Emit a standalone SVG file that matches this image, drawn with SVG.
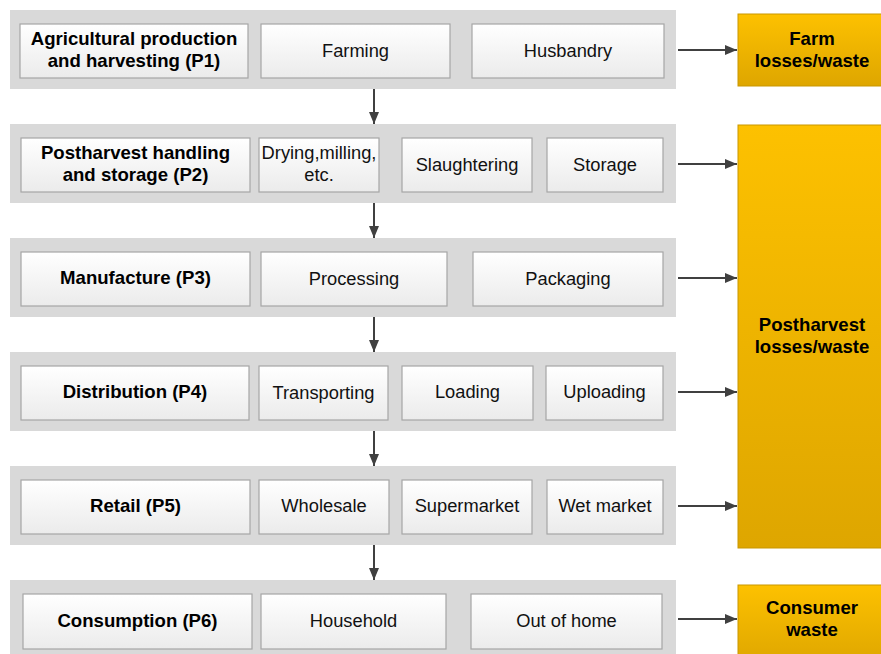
<svg xmlns="http://www.w3.org/2000/svg" width="881" height="654" viewBox="0 0 881 654">
<defs>
<linearGradient id="gBox" x1="0" y1="0" x2="0" y2="1"><stop offset="0" stop-color="#ffffff"/><stop offset="1" stop-color="#ebebeb"/></linearGradient>
<linearGradient id="gOr" x1="0" y1="0" x2="0" y2="1"><stop offset="0" stop-color="#fdc100"/><stop offset="1" stop-color="#dea600"/></linearGradient>
<marker id="ah" viewBox="0 0 12 10" refX="12" refY="5" markerWidth="6" markerHeight="5" orient="auto" markerUnits="strokeWidth"><path d="M0,0 L12,5 L0,10 z" fill="#404040"/></marker>
<style>
.band{fill:#d9d9d9}
.box{fill:url(#gBox);stroke:#a6a6a6;stroke-width:1.2}
.or{fill:url(#gOr);stroke:#c99700;stroke-width:1}
text{font-family:"Liberation Sans",Arial,sans-serif;font-size:18.3px;fill:#111111;text-anchor:middle}
.b{font-weight:bold;font-size:18.6px;fill:#000}
.c{stroke:#404040;stroke-width:2;fill:none;marker-end:url(#ah)}
</style>
</defs>
<rect width="881" height="654" fill="#ffffff"/>

<g id="row1">
<rect class="band" x="10" y="10" width="666" height="79"/>
<rect class="box" x="20" y="24" width="228" height="54"/>
<text class="b" x="134" y="45">Agricultural production</text>
<text class="b" x="134" y="67">and harvesting (P1)</text>
<rect class="box" x="261" y="24" width="189" height="54"/>
<text x="355.5" y="57">Farming</text>
<rect class="box" x="472" y="24" width="192" height="54"/>
<text x="568" y="57">Husbandry</text>
</g>

<g id="row2">
<rect class="band" x="10" y="124" width="666" height="79"/>
<rect class="box" x="21" y="138" width="229" height="54"/>
<text class="b" x="135.5" y="159">Postharvest handling</text>
<text class="b" x="135.5" y="181">and storage (P2)</text>
<rect class="box" x="259" y="138" width="120" height="54"/>
<text x="319" y="159">Drying,milling,</text>
<text x="319" y="181">etc.</text>
<rect class="box" x="402" y="138" width="130" height="54"/>
<text x="467" y="171">Slaughtering</text>
<rect class="box" x="547" y="138" width="116" height="54"/>
<text x="605" y="171">Storage</text>
</g>

<g id="row3">
<rect class="band" x="10" y="238" width="666" height="79"/>
<rect class="box" x="21" y="252" width="229" height="54"/>
<text class="b" x="135.5" y="284">Manufacture (P3)</text>
<rect class="box" x="261" y="252" width="186" height="54"/>
<text x="354" y="285">Processing</text>
<rect class="box" x="473" y="252" width="190" height="54"/>
<text x="568" y="285">Packaging</text>
</g>

<g id="row4">
<rect class="band" x="10" y="352" width="666" height="79"/>
<rect class="box" x="21" y="366" width="228" height="54"/>
<text class="b" x="135" y="398">Distribution (P4)</text>
<rect class="box" x="259" y="366" width="129" height="54"/>
<text x="323.5" y="399">Transporting</text>
<rect class="box" x="402" y="366" width="131" height="54"/>
<text x="467.5" y="398">Loading</text>
<rect class="box" x="546" y="366" width="117" height="54"/>
<text x="604.5" y="398">Uploading</text>
</g>

<g id="row5">
<rect class="band" x="10" y="466" width="666" height="79"/>
<rect class="box" x="21" y="480" width="229" height="54"/>
<text class="b" x="135.5" y="512">Retail (P5)</text>
<rect class="box" x="259" y="480" width="130" height="54"/>
<text x="324" y="512">Wholesale</text>
<rect class="box" x="402" y="480" width="130" height="54"/>
<text x="467" y="512">Supermarket</text>
<rect class="box" x="547" y="480" width="116" height="54"/>
<text x="605" y="512">Wet market</text>
</g>

<g id="row6">
<rect class="band" x="10" y="580" width="666" height="74"/>
<rect class="box" x="23" y="594" width="229" height="55"/>
<text class="b" x="137.5" y="627">Consumption (P6)</text>
<rect class="box" x="261" y="594" width="185" height="55"/>
<text x="353.5" y="627">Household</text>
<rect class="box" x="471" y="594" width="191" height="55"/>
<text x="566.5" y="627">Out of home</text>
</g>

<g id="farm-loss">
<rect class="or" x="738" y="14" width="150" height="72"/>
<text class="b" x="812" y="45">Farm</text>
<text class="b" x="812" y="67">losses/waste</text>
</g>
<g id="postharvest-loss">
<rect class="or" x="738" y="125" width="150" height="423"/>
<text class="b" x="812" y="331">Postharvest</text>
<text class="b" x="812" y="353">losses/waste</text>
</g>
<g id="consumer-waste">
<rect class="or" x="738" y="585" width="150" height="80"/>
<text class="b" x="812" y="614">Consumer</text>
<text class="b" x="812" y="636">waste</text>
</g>

<g id="connectors">
<line class="c" x1="374" y1="89" x2="374" y2="124"/>
<line class="c" x1="374" y1="203" x2="374" y2="238"/>
<line class="c" x1="374" y1="317" x2="374" y2="352"/>
<line class="c" x1="374" y1="431" x2="374" y2="466"/>
<line class="c" x1="374" y1="545" x2="374" y2="580"/>
<line class="c" x1="678" y1="50" x2="737" y2="50"/>
<line class="c" x1="678" y1="164" x2="737" y2="164"/>
<line class="c" x1="678" y1="278" x2="737" y2="278"/>
<line class="c" x1="678" y1="392" x2="737" y2="392"/>
<line class="c" x1="678" y1="506" x2="737" y2="506"/>
<line class="c" x1="678" y1="619" x2="737" y2="619"/>
</g>
</svg>
